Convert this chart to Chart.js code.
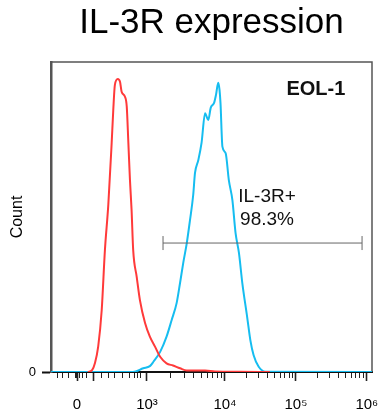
<!DOCTYPE html>
<html><head><meta charset="utf-8">
<script src="https://cdn.jsdelivr.net/npm/chart.js@4"></script>
<style>html,body{margin:0;padding:0;background:#fff}</style>
</head><body>
<canvas id="c" width="387" height="414"></canvas>
<script>
// ---- data (x in display channels 0..1000, y in relative count 0..100) ----
const chartTitle = 'IL-3R expression';
const yAxisTitle = 'Count';
const sampleLabel = 'EOL-1';
const gateLabel = ['IL-3R+', '98.3%'];

const xTickChannels = [81, 299, 542, 763, 984];
const xTickLabels = ['0', '10³', '10⁴', '10⁵', '10⁶'];
const xUnlabeledMajor = [131];
const xLowMinorTicks = [19, 37, 56, 75, 79, 84, 90, 97, 112, 156, 178, 199, 224, 243, 259, 271, 280];
const yTickValues = [0];
const yTickLabels = ['0'];

const isotypeX = [115, 128, 137, 147, 158, 168, 178.5, 189, 194, 199, 208, 215, 220, 230.5, 236, 241, 246, 251, 256, 267, 277, 293, 308, 324, 340, 360, 380, 402, 423, 480, 511, 589, 682];
const isotypeY = [0, 0.6, 2.9, 8.2, 20, 39.4, 53.9, 73.9, 84.5, 92.6, 94.5, 93.6, 90.4, 88.8, 85.6, 73.9, 61.9, 52.3, 39.4, 30.7, 23.2, 15.8, 11.4, 8.2, 4.9, 2.8, 2.1, 1.2, 0.5, 0.5, 0.2, 0.1, 0];

const il3rX = [0, 255, 287.5, 308, 319, 340, 360, 376, 391.5, 402, 412, 423, 433, 443, 448.6, 459, 469, 480, 484, 490, 497.5, 508, 514, 521, 525, 528, 534, 544, 554, 565, 575, 585.5, 596, 611, 621, 631, 647, 668, 1000];
const il3rY = [0, 0, 1.2, 1.9, 3.3, 6.5, 11.4, 16.8, 22.3, 28.7, 35.2, 41.6, 49, 57.1, 64.2, 68.4, 73.9, 83.5, 82.6, 81.3, 85.2, 86.8, 89.4, 93.3, 91, 86.8, 72.7, 70.6, 61.9, 55.5, 44.8, 38.4, 28.7, 17.8, 10.3, 5.5, 1.7, 0.1, 0];

const gateX = [349, 969];
const gateY = [41.6, 41.6];

// ---- helpers ----
const pts = (xs, ys) => xs.map((x, i) => ({x, y: ys[i]}));
const minorTicks = xLowMinorTicks.slice();
for (let d = 1; d < xTickChannels.length - 1; d++) {
  const a = xTickChannels[d], b = xTickChannels[d + 1];
  for (let k = 2; k <= 9; k++) minorTicks.push(a + (b - a) * Math.log10(k));
}
const majorSet = new Set(xTickChannels.concat(xUnlabeledMajor));
const allXTicks = xTickChannels.concat(xUnlabeledMajor, minorTicks).sort((a, b) => a - b);
const FONT = "'Liberation Sans', Arial, sans-serif";

const framePlugin = {
  id: 'frame',
  beforeDatasetsDraw(chart) {
    const {ctx, chartArea: a} = chart;
    ctx.save();
    ctx.strokeStyle = '#555';
    ctx.lineWidth = 1.5;
    ctx.beginPath();
    ctx.moveTo(a.left, a.top); ctx.lineTo(a.right, a.top); ctx.lineTo(a.right, a.bottom);
    ctx.stroke();
    ctx.restore();
  }
};
const textPlugin = {
  id: 'labels',
  afterDatasetsDraw(chart) {
    const {ctx, scales: {x, y}} = chart;
    ctx.save();
    ctx.fillStyle = '#111';
    ctx.textAlign = 'center';
    ctx.textBaseline = 'alphabetic';
    ctx.font = 'bold 20px ' + FONT;
    ctx.fillText(sampleLabel, x.getPixelForValue(825), y.getPixelForValue(89.5));
    ctx.font = '19px ' + FONT;
    ctx.fillText(gateLabel[0], x.getPixelForValue(673), y.getPixelForValue(54.8));
    ctx.fillText(gateLabel[1], x.getPixelForValue(673), y.getPixelForValue(47.4));
    ctx.restore();
  }
};

new Chart(document.getElementById('c'), {
  type: 'line',
  data: {
    datasets: [
      { label: 'gate', data: pts(gateX, gateY), borderColor: '#666', borderWidth: 1,
        pointStyle: 'line', pointRotation: 90, pointRadius: 7, pointBorderWidth: 1,
        pointBorderColor: '#666', tension: 0 },
      { label: 'isotype', data: pts(isotypeX, isotypeY), borderColor: '#ff3a3a', borderWidth: 2,
        pointRadius: 0, cubicInterpolationMode: 'monotone' },
      { label: 'IL-3R', data: pts(il3rX, il3rY), borderColor: '#16bdf0', borderWidth: 2,
        pointRadius: 0, cubicInterpolationMode: 'monotone' }
    ]
  },
  options: {
    responsive: false,
    animation: false,
    layout: { padding: { left: 0, right: 15, top: 0, bottom: 0 } },
    plugins: {
      legend: { display: false },
      tooltip: { enabled: false },
      title: { display: true, text: chartTitle, fullSize: false, color: '#000',
        font: { family: FONT, size: 35, weight: 'normal' }, padding: { top: 2, bottom: 18 } }
    },
    scales: {
      x: {
        type: 'linear', min: 0, max: 1000,
        afterFit: s => { s.height = 42; s.paddingLeft = 0; s.paddingRight = 0; },
        afterBuildTicks: s => { s.ticks = allXTicks.map(v => ({value: v})); },
        ticks: {
          autoSkip: false, maxRotation: 0, padding: 15, color: '#000',
          font: { family: FONT, size: 15 },
          callback: v => { const i = xTickChannels.indexOf(v); return i >= 0 ? xTickLabels[i] : ''; }
        },
        grid: {
          display: true, drawOnChartArea: false, drawTicks: true, tickLength: 9,
          tickColor: '#222',
          tickWidth: c => majorSet.has(c.tick && c.tick.value) ? 1.6 : 1,
          tickBorderDash: c => majorSet.has(c.tick && c.tick.value) ? [] : [5, 30]
        },
        border: { display: true, color: '#111', width: 2 }
      },
      y: {
        type: 'linear', min: 0, max: 100,
        afterFit: s => { s.width = 51; s.paddingTop = 0; s.paddingBottom = 0; },
        afterBuildTicks: s => { s.ticks = yTickValues.map(v => ({value: v})); },
        ticks: { padding: 6, color: '#000', font: { family: FONT, size: 13 },
          callback: v => yTickLabels[yTickValues.indexOf(v)] },
        grid: { display: true, drawOnChartArea: false, drawTicks: true, tickLength: 9, tickColor: '#111', tickWidth: 2 },
        border: { display: true, color: '#555', width: 2.5 },
        title: { display: true, text: yAxisTitle, color: '#000', font: { family: FONT, size: 16 }, padding: { top: 8, bottom: 0 } }
      }
    }
  },
  plugins: [framePlugin, textPlugin]
});
</script>
</body></html>
